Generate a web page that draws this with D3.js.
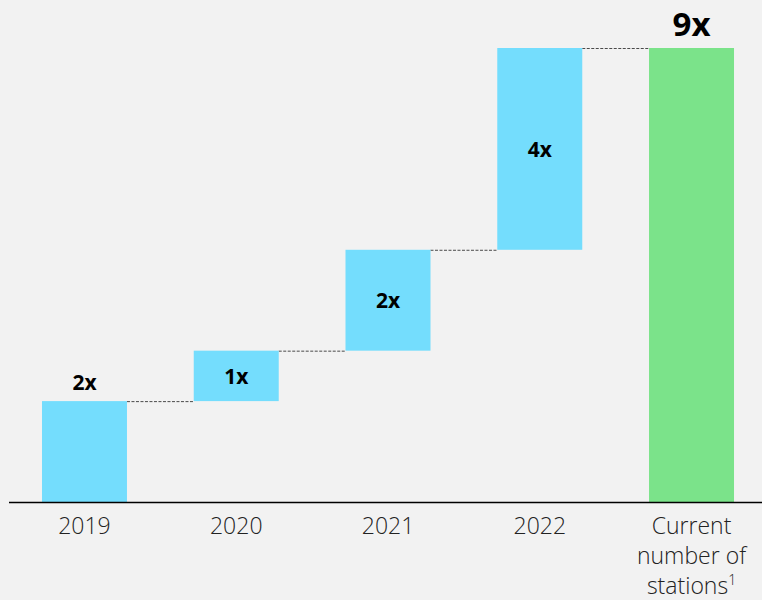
<!DOCTYPE html>
<html>
<head>
<meta charset="utf-8">
<script src="https://cdn.jsdelivr.net/npm/d3@7"></script>
<style>
  html, body { margin: 0; padding: 0; background: #f2f2f2; }
  svg { display: block; }
</style>
</head>
<body>
<svg id="chart" width="762" height="600"></svg>
<script>
// Growth in stations, step by step, then the resulting total
const categories = ["2019", "2020", "2021", "2022", "Current"];
const tickLines = [["2019"], ["2020"], ["2021"], ["2022"], ["Current", "number of", "stations"]];
const increments = [2, 1, 2, 4];
const total = 9;
const valueLabels = ["2x", "1x", "2x", "4x", "9x"];

const chartWidth = 762;
const baseY = 502, topY = 48;

const svg = d3.select("#chart");

// Build waterfall segments: floating steps followed by a full total bar
let running = 0;
const segments = increments.map((v, i) => {
  const seg = { cat: categories[i], start: running, end: running + v, label: valueLabels[i], total: false };
  running += v;
  return seg;
});
segments.push({ cat: categories[4], start: 0, end: total, label: valueLabels[4], total: true });

const x = d3.scaleBand()
  .domain(categories)
  .range([8.6, 767.4])
  .paddingInner(0.44)
  .paddingOuter(0.22);

const y = d3.scaleLinear()
  .domain([0, total])
  .range([baseY, topY]);

// Connectors between consecutive bars
svg.append("g")
  .selectAll("line")
  .data(segments.slice(0, -1))
  .join("line")
  .attr("x1", d => x(d.cat) + x.bandwidth())
  .attr("x2", (d, i) => x(segments[i + 1].cat))
  .attr("y1", d => y(d.end) + 0.5)
  .attr("y2", d => y(d.end) + 0.5)
  .attr("stroke", "#4a4a4a")
  .attr("stroke-width", 1)
  .attr("stroke-dasharray", "3,1.5");

// Bars
svg.append("g")
  .selectAll("rect")
  .data(segments)
  .join("rect")
  .attr("x", d => x(d.cat))
  .attr("width", x.bandwidth())
  .attr("y", d => y(d.end))
  .attr("height", d => y(d.start) - y(d.end))
  .attr("fill", d => d.total ? "#7be38a" : "#74ddfd");

// Value labels: above the first bar and the total, inside the others
svg.append("g")
  .selectAll("text")
  .data(segments)
  .join("text")
  .attr("x", d => x(d.cat) + x.bandwidth() / 2)
  .attr("y", (d, i) => {
    if (d.total) return y(d.end) - 12;
    if (i === 0) return y(d.end) - 11;
    return (y(d.start) + y(d.end)) / 2 + 8;
  })
  .attr("text-anchor", "middle")
  .attr("font-family", "'Open Sans', sans-serif")
  .attr("font-weight", "bold")
  .attr("font-size", d => d.total ? 33 : 21)
  .attr("fill", "#000")
  .text(d => d.label);

// Category axis
const axis = svg.append("g")
  .attr("transform", `translate(0,${baseY})`)
  .call(d3.axisBottom(x).tickSize(0).tickFormat(""));
axis.select(".domain").remove();
axis.append("line")
  .attr("x1", 9).attr("x2", chartWidth)
  .attr("y1", 0.5).attr("y2", 0.5)
  .attr("stroke", "#000").attr("stroke-width", 1.5);

axis.selectAll(".tick").each(function (d, i) {
  const t = d3.select(this).append("text")
    .attr("text-anchor", "middle")
    .attr("font-family", "'Open Sans', sans-serif")
    .attr("font-weight", 300)
    .attr("font-size", 23)
    .attr("fill", "#222");
  tickLines[i].forEach((line, j) => {
    t.append("tspan").attr("x", 0).attr("y", 32 + j * 30).text(line);
    if (j === 2) {
      t.append("tspan")
        .attr("dy", -9)
        .attr("font-size", 14)
        .text("1");
    }
  });
});
</script>
</body>
</html>
